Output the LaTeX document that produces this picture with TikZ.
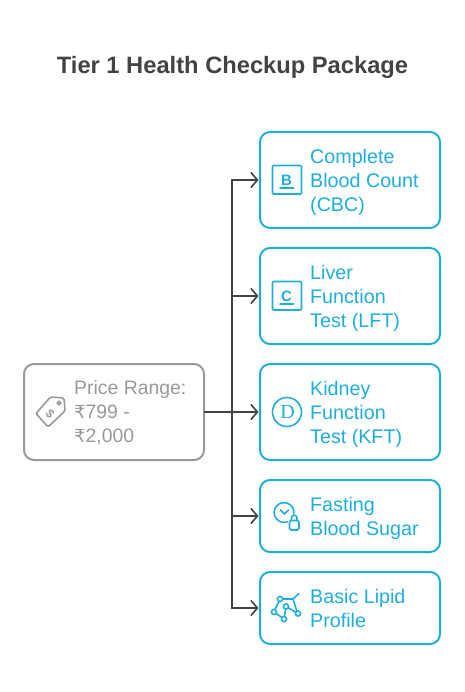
\documentclass[tikz,border=0pt]{standalone}
\usepackage{fontspec}
\setmainfont{Liberation Sans}
\newfontfamily\rupee{DejaVu Sans}
\newfontfamily\slab{Liberation Serif}
\usetikzlibrary{arrows.meta}
\definecolor{bluec}{HTML}{1EAEDB}
\definecolor{grayc}{HTML}{999999}
\definecolor{darkc}{HTML}{434343}
\tikzset{
  cardbox/.style={draw=bluec,line width=2pt,rounded corners=10pt,minimum width=180pt,inner sep=0pt,outer sep=0pt,anchor=north west},
  pricebox/.style={draw=grayc,line width=2pt,rounded corners=10pt,minimum width=180pt,minimum height=96pt,inner sep=0pt,outer sep=0pt,anchor=north west},
  label/.style={anchor=west,align=left,inner sep=0pt,text=bluec,font=\fontsize{19.7pt}{24pt}\selectfont},
  conn/.style={draw=darkc,line width=1.6pt,-{Straight Barb[length=6.5pt,width=15pt,line width=1.6pt]}},
  icon/.style={draw=bluec,line width=1.6pt,line join=round,line cap=round},
  glyph/.style={inner sep=0pt,text=bluec,font=\bfseries\fontsize{15pt}{15pt}\selectfont},
}
\begin{document}
\begin{tikzpicture}[x=1pt,y=-1pt]
\useasboundingbox (0,0) rectangle (464,692);
\node[inner sep=0pt,text=darkc,font=\bfseries\fontsize{23.7pt}{28pt}\selectfont] (title) at (232.5,67) {Tier 1 Health Checkup Package};
\node[pricebox] (price) at (24,364) {};
\node[cardbox,minimum height=96pt] (cbc) at (260,132) {};
\node[cardbox,minimum height=96pt] (lft) at (260,248) {};
\node[cardbox,minimum height=96pt] (kft) at (260,364) {};
\node[cardbox,minimum height=72pt] (fbs) at (260,480) {};
\node[cardbox,minimum height=72pt] (lip) at (260,572) {};
\coordinate (trunk) at (232,412);
\foreach \t in {cbc,lft,kft,fbs,lip}{\draw[conn] (price.east) -- (trunk) |- ([xshift=-1.5pt]\t.west);}
\node[label,text=grayc,font=\fontsize{19.4pt}{24pt}\selectfont] (pricetext) at (74,413) {Price Range:\\{\rupee\fontsize{18pt}{24pt}\selectfont ₹}799 -\\{\rupee\fontsize{18pt}{24pt}\selectfont ₹}2,000};
\node[label] (cbct) at (310,182) {Complete\\Blood Count\\(CBC)};
\node[label] (lftt) at (310,298) {Liver\\Function\\Test (LFT)};
\node[label] (kftt) at (310,414) {Kidney\\Function\\Test (KFT)};
\node[label] (fbst) at (310,518) {Fasting\\Blood Sugar};
\node[label] (lipt) at (310,608.5) {Basic Lipid\\Profile};
% B icon
\draw[icon,rounded corners=1pt] (272.5,165.5) rectangle (301.5,194);
\node[glyph] (bglyph) at (286.5,180.5) {B};
\draw[icon] (280,188) -- (293.5,188);
% C icon
\draw[icon,rounded corners=1pt] (272.5,281.5) rectangle (301.5,310);
\node[glyph] (cglyph) at (286.5,296.5) {C};
\draw[icon] (280,304) -- (293.5,304);
% D icon
\draw[icon] (287,412) circle (14.5);
\node[inner sep=0pt,text=bluec,font=\slab\fontsize{20pt}{20pt}\selectfont] (dglyph) at (287.5,412) {D};
% clock + lock
\draw[icon] plot[smooth,domain=70:365,samples=40] ({284+9.8*cos(\x)},{512.5+9.8*sin(\x)});
\draw[icon] (280.5,510) -- (284.5,514) -- (288.5,510);
\draw[icon,rounded corners=1.5pt] (289.5,520.5) rectangle (299,530);
\draw[icon] (291.5,520.5) -- (291.5,518) plot[smooth,domain=180:360,samples=12] ({294.25+2.75*cos(\x)},{518+2.75*sin(\x)}) -- (297,520.5);
% network
\draw[icon] (282.6,599) -- (293,599) -- (299,593.5);
\draw[icon] (293,599) -- (296.8,611);
\draw[icon] (279,601.5) -- (275,609.5);
\draw[icon] (276.2,613.5) -- (281.8,617.5);
\draw[icon] (284.5,616.4) -- (285.6,609);
\draw[icon] (288.3,607.8) -- (295.7,612.2);
\draw[icon] (280,599) circle (2.6);
\draw[icon] (286,606.5) circle (2.6);
\draw[icon] (298,613.5) circle (2.6);
\draw[icon] (284,619) circle (2.6);
\draw[icon] (274,612) circle (2.6);
% tag icon
\draw[draw=grayc,line width=1.6pt,line join=round,line cap=round,rounded corners=1.5pt] (50.5,397) -- (64,398) -- (65,411) -- (48,427) -- (36,413.5) -- cycle;
\draw[draw=grayc,line width=1.6pt] (59,403) circle (1.7);
\node[inner sep=0pt,text=grayc,rotate=-45,font=\bfseries\fontsize{12pt}{12pt}\selectfont] (dollar) at (50,414) {\$};
\end{tikzpicture}
\end{document}
